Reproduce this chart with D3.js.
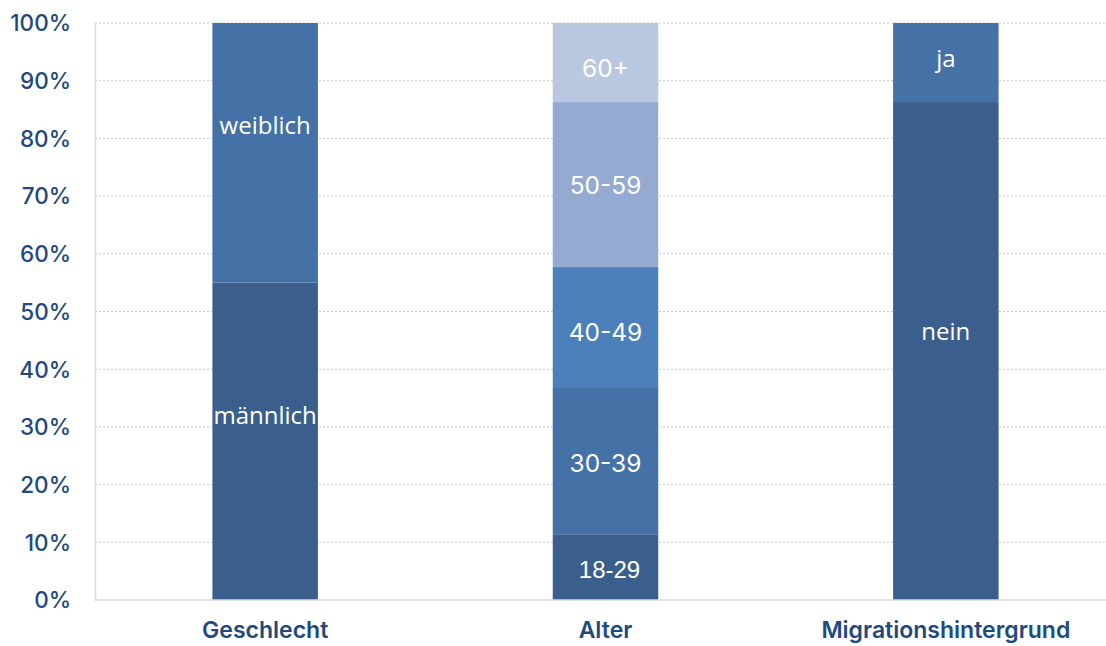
<!DOCTYPE html>
<html><head><meta charset="utf-8">
<script src="https://cdn.jsdelivr.net/npm/d3@7"></script>
<style>body{margin:0;background:#fff}svg{display:block}</style>
</head><body><svg id="c" width="1106" height="646"></svg>
<script>
const categories = ["Geschlecht", "Alter", "Migrationshintergrund"];
const geschlechtLabels = ["männlich", "weiblich"];
const geschlechtValues = [55, 45];
const geschlechtLabelAt = [32.0, 82.3];
const alterLabels = ["18-29", "30-39", "40-49", "50-59", "60+"];
const alterValues = [11.4, 25.5, 20.8, 28.6, 13.7];
const alterLabelAt = [5.2, 23.7, 46.4, 71.9, 92.2];
const migrationLabels = ["nein", "ja"];
const migrationValues = [86.3, 13.7];
const migrationLabelAt = [46.6, 93.9];
const yTicks = [0, 10, 20, 30, 40, 50, 60, 70, 80, 90, 100];

const colors = {
  "männlich": "#3b5f8d", "weiblich": "#4572a6",
  "18-29": "#3b5f8d", "30-39": "#4572a6", "40-49": "#4c80bb", "50-59": "#94aad1", "60+": "#b9c7e0",
  "nein": "#3b5f8d", "ja": "#4572a6"
};
const fonts = {
  "männlich": "'Open Sans'", "weiblich": "'Open Sans'", "nein": "'Open Sans'", "ja": "'Open Sans'",
  "18-29": "'Liberation Sans'"
};
const sizes = { "männlich": 24, "weiblich": 24, "nein": 24, "ja": 24, "18-29": 24 };

function stack(cat, labels, values, labelAt) {
  let acc = 0;
  return labels.map((l, i) => {
    const s = { cat, label: l, y0: acc, y1: acc + values[i], mid: labelAt[i] };
    acc += values[i];
    return s;
  });
}
const segs = [
  ...stack("Geschlecht", geschlechtLabels, geschlechtValues, geschlechtLabelAt),
  ...stack("Alter", alterLabels, alterValues, alterLabelAt),
  ...stack("Migrationshintergrund", migrationLabels, migrationValues, migrationLabelAt)
];

const svg = d3.select("#c");
const mLeft = 95, mTop = 23, mBottom = 600;
const x = d3.scaleBand().domain(categories).range([mLeft, 1116]).paddingInner(0.69).paddingOuter(0.345);
const y = d3.scaleLinear().domain([0, 100]).range([mBottom, mTop]);

// grid
svg.append("g").selectAll("line").data(yTicks.filter(t => t > 0)).join("line")
  .attr("x1", mLeft).attr("x2", 1106)
  .attr("y1", d => y(d)).attr("y2", d => y(d))
  .attr("stroke", "#c8c8c8").attr("stroke-width", 1).attr("stroke-dasharray", "2,2");

// y axis labels
const ya = svg.append("g").attr("transform", `translate(${mLeft},0)`)
  .call(d3.axisLeft(y).tickValues(yTicks).tickFormat(d => d + "%").tickSize(0).tickPadding(24));
ya.select(".domain").attr("stroke", "#d9d9d9").attr("stroke-width", 1.5);
ya.selectAll("text").attr("font-family", "Inter").attr("font-weight", 500).attr("font-size", 22.5).attr("fill", "#1e4a80").attr("dy", "0.35em");

// bars
svg.append("g").selectAll("rect").data(segs).join("rect")
  .attr("x", d => x(d.cat)).attr("width", x.bandwidth())
  .attr("y", d => y(d.y1)).attr("height", d => y(d.y0) - y(d.y1))
  .attr("fill", d => colors[d.label]);

// bottom axis
const xa = svg.append("g").attr("transform", `translate(0,${mBottom})`)
  .call(d3.axisBottom(x).tickSize(0).tickPadding(22));
xa.select(".domain").attr("stroke", "#d9d9d9").attr("stroke-width", 1.5).attr("d", `M${mLeft},0H1106`);
xa.selectAll("text").attr("font-family", "Inter").attr("font-weight", 600).attr("font-size", 23).attr("fill", "#1e4a80").attr("dy", "0.71em");

// labels
svg.append("g").selectAll("text").data(segs).join("text")
  .attr("x", d => x(d.cat) + x.bandwidth() / 2 + (d.label === "18-29" ? 4 : 0))
  .attr("y", d => y(d.mid)).attr("dy", "0.35em")
  .attr("text-anchor", "middle")
  .attr("font-family", d => fonts[d.label] || "Inter")
  .attr("font-size", d => sizes[d.label] || 24.5).attr("fill", "#fff")
  .text(d => d.label);
</script></body></html>
